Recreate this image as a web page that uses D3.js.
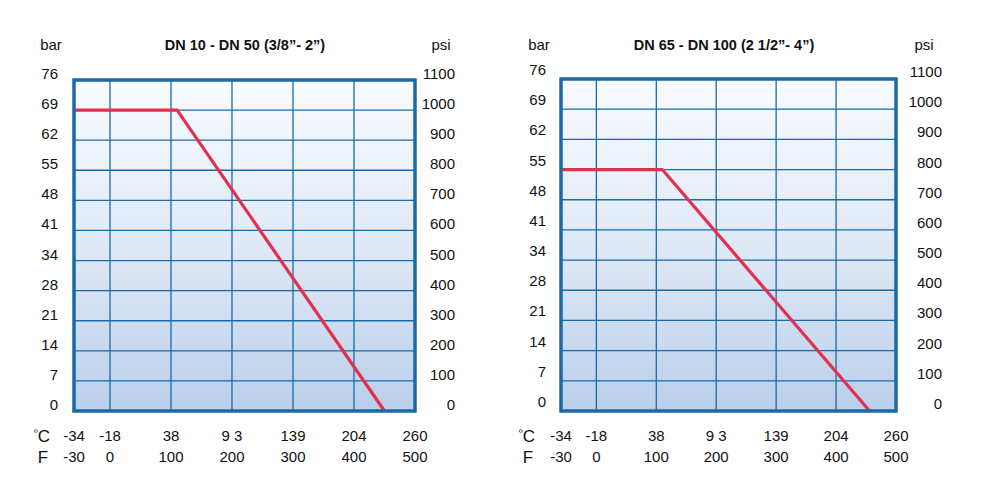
<!DOCTYPE html>
<html>
<head>
<meta charset="utf-8">
<script src="https://cdn.jsdelivr.net/npm/d3@7"></script>
<style>
  html, body { margin: 0; padding: 0; background: #ffffff; }
  svg { display: block; font-family: "Liberation Sans", Arial, sans-serif; }
</style>
</head>
<body>
<svg id="chart" width="991" height="483"></svg>
<script>
// ---- Data ----
const fahrenheitTicks = [-30, 0, 100, 200, 300, 400, 500];
const celsiusLabels = ["-34", "-18", "38", "9 3", "139", "204", "260"];
const psiTicks = [0, 100, 200, 300, 400, 500, 600, 700, 800, 900, 1000, 1100];
const barLabels = ["0", "7", "14", "21", "28", "34", "41", "48", "55", "62", "69", "76"];

const titles = ["DN 10 - DN 50 (3/8\u201D- 2\u201D)", "DN 65 - DN 100 (2 1/2\u201D- 4\u201D)"];

// pressure / temperature curves (temperature in °F, pressure in psi)
const curveSmallF = [-30, 110, 450];
const curveSmallPsi = [1000, 1000, 0];
const curveLargeF = [-30, 110, 456];
const curveLargePsi = [800, 800, 0];

// ---- Layout ----
const svg = d3.select("#chart");
const defs = svg.append("defs");
const grad = defs.append("linearGradient").attr("id", "bg").attr("x1", 0).attr("y1", 0).attr("x2", 0).attr("y2", 1);
grad.append("stop").attr("offset", "0%").attr("stop-color", "#f8fbfe");
grad.append("stop").attr("offset", "50%").attr("stop-color", "#dfe9f6");
grad.append("stop").attr("offset", "100%").attr("stop-color", "#bacfea");

// fractional position of each F tick along the (non-uniform) temperature axis
const tickFrac = [0, 0.1056, 0.2845, 0.4633, 0.6422, 0.8211, 1];

const panels = [
  { x0: 74, x1: 415, y0: 80, y1: 411, title: titles[0], titleX: 245,
    barLabX: 58, psiLabX: 455, barDy: -1, psiDy: -1, unitBarX: 51, unitPsiX: 441,
    cX: 42, fX: 43, fs: curveSmallF, ps: curveSmallPsi },
  { x0: 561, x1: 896, y0: 79, y1: 411, title: titles[1], titleX: 724,
    barLabX: 546, psiLabX: 942, barDy: -4, psiDy: -2, unitBarX: 539, unitPsiX: 924,
    cX: 527, fX: 528, fs: curveLargeF, ps: curveLargePsi }
];

const blue = "#1b6aa8";
const red = "#e2304f";

panels.forEach(p => {
  const g = svg.append("g");
  const w = p.x1 - p.x0;
  const x = d3.scaleLinear()
    .domain(fahrenheitTicks)
    .range(tickFrac.map(f => p.x0 + f * w));
  const y = d3.scaleLinear().domain([0, 1100]).range([p.y1, p.y0]);

  // background
  g.append("rect").attr("x", p.x0).attr("y", p.y0).attr("width", w).attr("height", p.y1 - p.y0)
    .attr("fill", "url(#bg)");

  // grid lines
  g.selectAll(".hg").data(psiTicks.slice(1, -1)).join("line")
    .attr("x1", p.x0).attr("x2", p.x1)
    .attr("y1", d => y(d)).attr("y2", d => y(d))
    .attr("stroke", blue).attr("stroke-width", 1.3);
  g.selectAll(".vg").data(fahrenheitTicks.slice(1, -1)).join("line")
    .attr("y1", p.y0).attr("y2", p.y1)
    .attr("x1", d => x(d)).attr("x2", d => x(d))
    .attr("stroke", blue).attr("stroke-width", 1.3);

  // curve
  const pts = p.fs.map((f, i) => [x(f), y(p.ps[i])]);
  g.append("path").attr("d", d3.line()(pts))
    .attr("fill", "none").attr("stroke", red).attr("stroke-width", 3.2)
    .attr("stroke-linejoin", "round");

  // frame
  g.append("rect").attr("x", p.x0).attr("y", p.y0).attr("width", w).attr("height", p.y1 - p.y0)
    .attr("fill", "none").attr("stroke", blue).attr("stroke-width", 3.5);

  // bar labels (left)
  g.selectAll(".bl").data(psiTicks).join("text")
    .attr("x", p.barLabX).attr("y", d => y(d) + p.barDy)
    .attr("text-anchor", "end").attr("font-size", 15).attr("fill", "#111")
    .text((d, i) => barLabels[i]);

  // psi labels (right)
  g.selectAll(".pl").data(psiTicks).join("text")
    .attr("x", p.psiLabX).attr("y", d => y(d) + p.psiDy)
    .attr("text-anchor", "end").attr("font-size", 15).attr("fill", "#111")
    .text(d => d);

  // headers
  g.append("text").attr("x", p.unitBarX).attr("y", 50).attr("text-anchor", "middle")
    .attr("font-size", 15).attr("fill", "#111").text("bar");
  g.append("text").attr("x", p.unitPsiX).attr("y", 50).attr("text-anchor", "middle")
    .attr("font-size", 15).attr("fill", "#111").text("psi");
  g.append("text").attr("x", p.titleX).attr("y", 50).attr("text-anchor", "middle")
    .attr("font-size", 14.5).attr("font-weight", "bold").attr("fill", "#111").text(p.title);

  // temperature labels
  g.selectAll(".cl").data(fahrenheitTicks).join("text")
    .attr("x", d => x(d)).attr("y", 441).attr("text-anchor", "middle")
    .attr("font-size", 15).attr("fill", "#111")
    .text((d, i) => celsiusLabels[i]);
  g.selectAll(".fl").data(fahrenheitTicks).join("text")
    .attr("x", d => x(d)).attr("y", 462).attr("text-anchor", "middle")
    .attr("font-size", 15).attr("fill", "#111")
    .text(d => d);

  const ct = g.append("text").attr("x", p.cX).attr("y", 442).attr("text-anchor", "middle")
    .attr("font-size", 17).attr("fill", "#111");
  ct.append("tspan").attr("font-size", 10).attr("dy", -6).text("º");
  ct.append("tspan").attr("dy", 6).text("C");
  g.append("text").attr("x", p.fX).attr("y", 463).attr("text-anchor", "middle")
    .attr("font-size", 17).attr("fill", "#111").text("F");
});
</script>
</body>
</html>
